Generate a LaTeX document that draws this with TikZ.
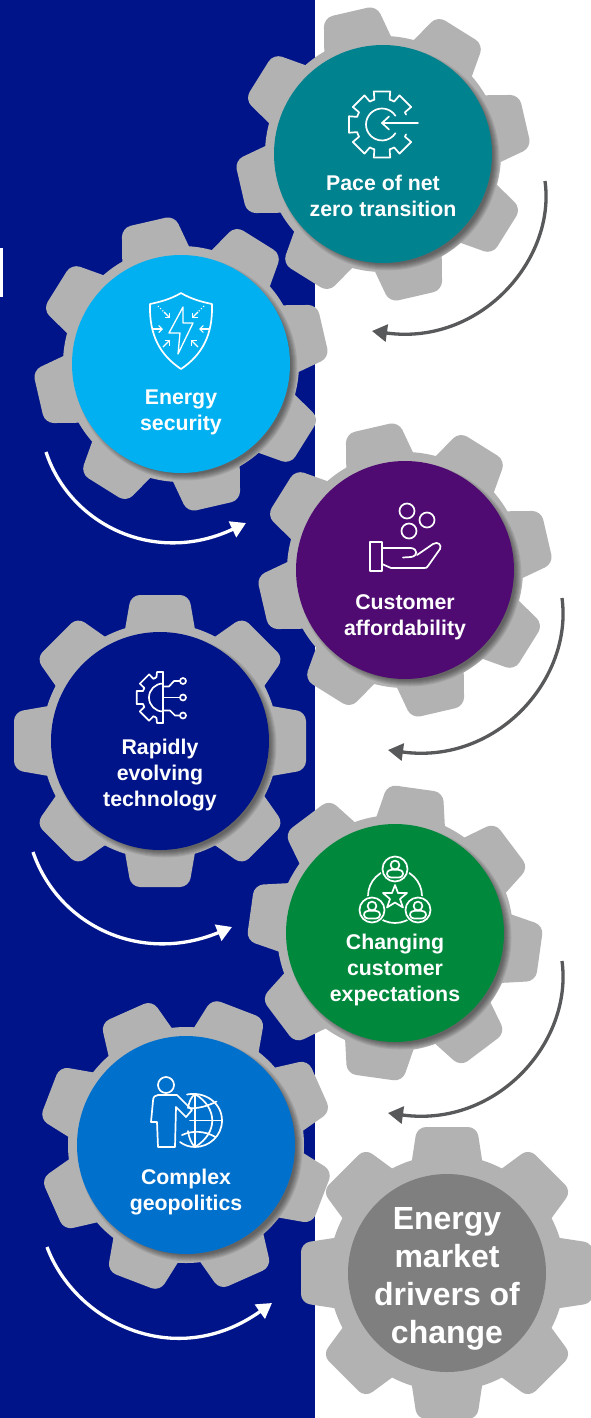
\documentclass[tikz,border=0pt]{standalone}
\usepackage{fontspec}
\setmainfont{Liberation Sans}
\usetikzlibrary{arrows.meta}
\definecolor{navybg}{RGB}{0,20,137}
\definecolor{gearg}{RGB}{178,178,178}
\definecolor{arrowd}{RGB}{88,89,91}
\definecolor{cteal}{RGB}{0,130,143}
\definecolor{csky}{RGB}{0,176,240}
\definecolor{cpurple}{RGB}{79,11,114}
\definecolor{cnavy}{RGB}{0,20,137}
\definecolor{cgreen}{RGB}{0,137,61}
\definecolor{cblue}{RGB}{0,112,205}
\definecolor{cgrey}{RGB}{127,127,127}
\tikzset{
  disc/.style={circle,inner sep=0pt,minimum size=218pt},
  lbl/.style={text=white,font=\bfseries\fontsize{21.3}{26}\selectfont,align=center,inner sep=0pt},
  biglbl/.style={text=white,font=\bfseries\fontsize{32}{38}\selectfont,align=center,inner sep=0pt},
  ico/.style={draw=white,line width=1.7pt,line join=round,line cap=round},
  turnd/.style={draw=arrowd,line width=3.3pt,-{Triangle[length=15pt,width=17pt]}},
  turnw/.style={draw=white,line width=3.3pt,-{Triangle[length=15pt,width=17pt]}},
}
% centre x, centre y, rotation, tooth half-width at tip
\newcommand\gearbody[4]{%
  \fill[gearg] (#1,#2) circle[radius=118];
  \foreach \k in {0,...,7}{%
    \begin{scope}[shift={(#1,#2)},rotate=#3+\k*45]
      \fill[gearg,rounded corners=9pt] (100,-37) -- (146,-#4) -- (146,#4) -- (100,37) -- cycle;
    \end{scope}}%
}
\newcommand\discshadow[3]{%
  \foreach \s in {0,1,2,3,4,5,6}{%
    \fill[black,opacity=0.075] (#1+4.5,#2+4.5) circle[radius=#3-3+\s*1.0];}%
}
\newcommand\person[2]{%
  \begin{scope}[shift={(#1,#2)}]
    \fill[cgreen] (0,0) circle[radius=14.5];
    \draw[ico] (0,0) circle[radius=12.5];
    \draw[ico] (0,-4) circle[radius=4.4];
    \draw[ico] (-8,5) .. controls (-8,1.5) and (-5,0.8) .. (-3.5,0.8) -- (3.5,0.8) .. controls (5,0.8) and (8,1.5) .. (8,5) .. controls (8,7) and (6,8.5) .. (4,8.5) -- (-4,8.5) .. controls (-6,8.5) and (-8,7) .. (-8,5) -- cycle;
  \end{scope}}
\begin{document}
\begin{tikzpicture}[x=1pt,y=-1pt]
\useasboundingbox (0,0) rectangle (590,1418);
\fill[white] (0,0) rectangle (590,1418);
\fill[navybg] (0,0) rectangle (315,1418);
\fill[white] (0,248) rectangle (3,297);

% gears
\gearbody{383}{154}{13}{27}
\gearbody{181}{364}{13}{27}
\gearbody{405}{570}{13}{27}
\gearbody{160}{741}{0}{29}
\gearbody{395}{933}{-8}{28}
\gearbody{186}{1145}{24}{28}
\gearbody{447}{1273}{0}{30}

% shadows
\discshadow{383}{154}{109}
\discshadow{181}{364}{109}
\discshadow{405}{570}{109}
\discshadow{160}{741}{109}
\discshadow{395}{933}{109}
\discshadow{186}{1145}{109}

% discs
\node[disc,fill=cteal] (d1) at (383,154) {};
\node[disc,fill=csky] (d2) at (181,364) {};
\node[disc,fill=cpurple] (d3) at (405,570) {};
\node[disc,fill=cnavy] (d4) at (160,741) {};
\node[disc,fill=cgreen] (d5) at (395,933) {};
\node[disc,fill=cblue] (d6) at (186,1145) {};
\node[disc,fill=cgrey,minimum size=198pt] (d7) at (447,1273) {};

% labels
\node[lbl] (t1) at (383,196) {Pace of net\\zero transition};
\node[lbl] (t2) at (181,412.5) {Energy\\security};
\node[lbl] (t3) at (405,617.5) {Customer\\affordability};
\node[lbl] (t4) at (160,775) {Rapidly\\evolving\\technology};
\node[lbl] (t5) at (395,970) {Changing\\customer\\expectations};
\node[lbl] (t6) at (186,1192.5) {Complex\\geopolitics};
\node[biglbl] (t7) at (447,1279) {Energy\\market\\drivers of\\change};

% turning arrows
\coordinate (a1s) at (545,181); \coordinate (a1e) at (372,331);
\coordinate (a2s) at (46,452);  \coordinate (a2e) at (246,523);
\coordinate (a3s) at (562,598); \coordinate (a3e) at (388,750);
\coordinate (a4s) at (33,852);  \coordinate (a4e) at (232,927);
\coordinate (a5s) at (562,961); \coordinate (a5e) at (388,1113);
\coordinate (a6s) at (47,1247); \coordinate (a6e) at (272,1303);
\draw[turnd] (a1s) .. controls (556,260) and (480,346) .. (a1e);
\draw[turnw] (a2s) .. controls (70,525) and (155,566) .. (a2e);
\draw[turnd] (a3s) .. controls (573,679) and (497,765) .. (a3e);
\draw[turnw] (a4s) .. controls (58,925) and (140,965) .. (a4e);
\draw[turnd] (a5s) .. controls (573,1042) and (497,1128) .. (a5e);
\draw[turnw] (a6s) .. controls (75,1322) and (175,1372) .. (a6e);

% icon 1: gear with arrow
\begin{scope}[shift={(382,124.5)}]
  \foreach \a in {45,90,135,180,225,270,315}{%
    \begin{scope}[rotate=\a]
      \draw[ico] (-22.5:26) -- (-17:26) -- (-14:34) -- (14:34) -- (17:26) -- (22.5:26);
    \end{scope}}
  \draw[ico] (-33:16) arc[start angle=-33,end angle=-327,radius=16];
  \draw[ico] (36,-1.5) -- (0,-1.5);
  \draw[ico] (7,-8) -- (0,-1.5) -- (7,5);
\end{scope}

% icon 2: shield
\draw[ico] (181,293) .. controls (171,299) and (160,302) .. (150,304) .. controls (149,335) and (160,355) .. (181,369) .. controls (202,355) and (213,335) .. (212,304) .. controls (202,302) and (191,299) .. (181,293) -- cycle;
\draw[ico,line width=1.3pt] (183,307) -- (169,333) -- (180,333) -- (178,354) -- (193,323) -- (183,323) -- cycle;
\draw[draw=white,line width=1.1pt,dotted] (158,306) -- (165,313);
\draw[draw=white,line width=1.1pt,dotted] (204,306) -- (197,313);
\foreach \xa/\ya/\xb/\yb in {164/312/170/318, 198/312/192/318, 152/329/163/329, 210/329/199/329, 163/347/170/340, 198/347/191/340}{%
  \draw[draw=white,line width=1.1pt,-{Straight Barb[length=3.5pt,width=7pt]}] (\xa,\ya) -- (\xb,\yb);}

% icon 3: hand and coins
\draw[ico] (407,511) circle[radius=7.5];
\draw[ico] (427,520) circle[radius=7.5];
\draw[ico] (409,531) circle[radius=7.5];
\draw[ico] (370,542) rectangle (382,571);
\draw[ico] (382,548) -- (411,548) .. controls (418,549) and (418,556) .. (411,557) -- (403,557.5);
\draw[ico] (417,555) -- (433,544) .. controls (438,541) and (442,545) .. (440,549) -- (428,566) .. controls (427,568) and (426,568) .. (424,568) -- (391,568) -- (382,564);

% icon 4: half gear and leads
\begin{scope}[shift={(163,697.5)}]
  \foreach \a in {135,180,225}{%
    \begin{scope}[rotate=\a]
      \draw[ico] (-22.5:21) -- (-18:21) -- (-14:27) -- (14:27) -- (18:21) -- (22.5:21);
    \end{scope}}
  \draw[ico] (0,-25.5) -- (-6,-25.5) -- (-6.5,-20.5) -- (-8,-19.4);
  \draw[ico] (0,25.5) -- (-6,25.5) -- (-6.5,20.5) -- (-8,19.4);
  \draw[ico] (0,-25.5) -- (0,25.5);
  \draw[ico] (0,-14) arc[start angle=-90,end angle=-270,radius=14];
  \draw[ico] (0,-11) -- (6,-11) -- (11,-16.5) -- (17,-16.5);
  \draw[ico] (0,0) -- (17,0);
  \draw[ico] (0,13) -- (7,13) -- (12,18) -- (17,18);
  \draw[ico] (20,-16.5) circle[radius=3];
  \draw[ico] (20,0) circle[radius=3];
  \draw[ico] (20,18) circle[radius=3];
\end{scope}

% icon 5: people and star
\draw[ico] (395,896) circle[radius=27];
\person{395}{869}
\person{372}{910}
\person{418}{910}
\draw[ico] (395,885) -- (398,893) -- (407,893) -- (400,899) -- (403,907.5) -- (395,902.5) -- (387,907.5) -- (390,899) -- (383,893) -- (392,893) -- cycle;

% icon 6: person and globe
\draw[ico] (166,1085) circle[radius=8];
\draw[ico] (177,1095) -- (192,1110) -- (186,1117) -- (176,1107) -- (175,1147) -- (158,1147) -- (157,1122) -- (151,1122) -- (153,1101) .. controls (153,1097) and (155,1095) .. (158,1095) -- cycle;
\draw[ico] (187,1094.5) .. controls (205,1091) and (222,1103) .. (222,1120.5) .. controls (222,1136) and (209,1147) .. (195,1147) .. controls (189,1147) and (184,1145) .. (180,1142);
\draw[ico] (195,1094) -- (195,1147);
\draw[ico] (195,1094) .. controls (218,1108) and (218,1133) .. (195,1147);
\draw[ico] (195,1094) .. controls (191,1097) and (189,1102) .. (188,1108);
\draw[ico] (188,1131) .. controls (189,1138) and (191,1143) .. (195,1147);
\draw[ico] (189,1108) .. controls (197,1109) and (208,1106) .. (216.5,1101.5);
\draw[ico] (190,1120.5) -- (222,1120.5);
\draw[ico] (182,1135) .. controls (193,1130) and (205,1131) .. (215.5,1137);
\end{tikzpicture}
\end{document}
